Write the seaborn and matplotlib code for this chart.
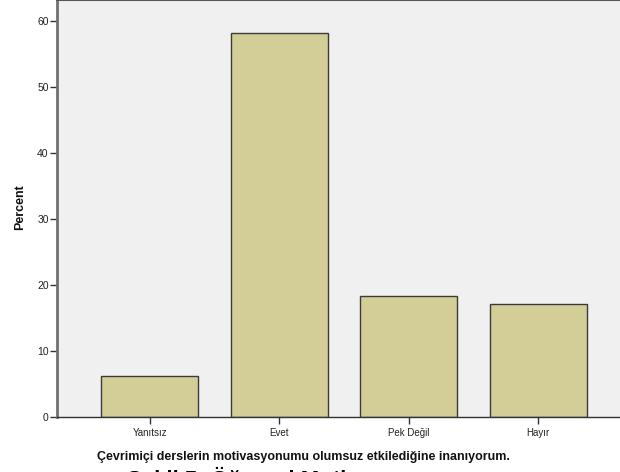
import pandas as pd
import matplotlib.pyplot as plt
import seaborn as sns

# valores (percentuais)
categorias = ['Yanıtsız', 'Evet', 'Pek Değil', 'Hayır']
percentuais = [6.2, 58.2, 18.4, 17.2]
yticks = [0, 10, 20, 30, 40, 50, 60]

df = pd.DataFrame({'Resposta': categorias, 'Percent': percentuais})

sns.set_style("white")
plt.rcParams['font.family'] = ['Liberation Sans', 'DejaVu Sans']

fig = plt.figure(figsize=(6.2, 4.72), dpi=100)
ax = fig.add_axes([57 / 620, 54.7 / 472, 574 / 620, 417.3 / 472])
ax.set_facecolor('#F0F0F0')

sns.barplot(
    data=df, x='Resposta', y='Percent', ax=ax,
    color='#D3CE97', edgecolor='#3A3A3A', linewidth=1.0,
    width=0.75, saturation=1
)

ax.set_xlim(-0.718, 3.718)
ax.set_ylim(0, 63.2)
ax.set_yticks(yticks)
ax.set_xlabel('')
ax.set_ylabel('')

ax.tick_params(axis='y', direction='out', length=5, width=1, color='#333333',
               labelsize=7.5, labelcolor='#222222', pad=1, left=True)
ax.tick_params(axis='x', direction='out', length=5, width=1, color='#333333',
               labelsize=7, labelcolor='#222222', pad=3, bottom=True)

for lado in ['left', 'bottom', 'top']:
    ax.spines[lado].set_visible(True)
ax.spines['right'].set_visible(False)
ax.spines['left'].set_color('#707070')
ax.spines['left'].set_linewidth(2)
ax.spines['bottom'].set_color('#333333')
ax.spines['bottom'].set_linewidth(1)
ax.spines['top'].set_color('#555555')
ax.spines['top'].set_linewidth(1.5)

fig.text(20 / 620, 1 - 207 / 472, 'Percent', rotation=90, fontsize=9,
         fontweight='bold', ha='center', va='center', color='#111111')
fig.text(303 / 620, 1 - 457 / 472,
         'Çevrimiçi derslerin motivasyonumu olumsuz etkilediğine inanıyorum.',
         fontsize=9, fontweight='bold', ha='center', va='center', color='#111111')
# legenda da figura, cortada na borda inferior como no original
fig.text(127 / 620, -0.03, 'Şekil 5: Öğrenci Motiv', fontsize=16,
         fontweight='bold', ha='left', va='baseline', color='#000000')

fig.savefig('out.png', dpi=100)
